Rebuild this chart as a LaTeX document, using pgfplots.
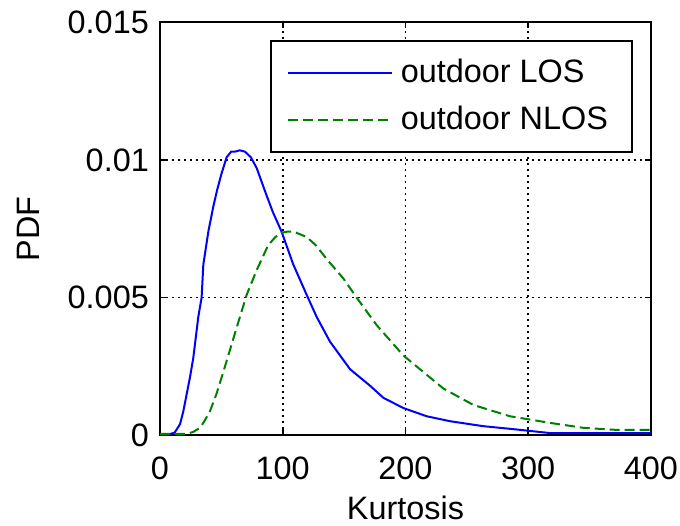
\documentclass[border=0pt]{standalone}
\usepackage{fontspec}
\setmainfont{Liberation Sans}
\usepackage{pgfplots}
\pgfplotsset{compat=1.18}
\definecolor{mblue}{rgb}{0,0,1}
\definecolor{mgreen}{rgb}{0,0.5,0}
\begin{document}
\fontsize{16.2}{19}\selectfont
\begin{tikzpicture}
\begin{axis}[
  name=ax,
  scale only axis,
  width=245.5pt, height=206.5pt,
  xmin=0, xmax=400, ymin=0, ymax=0.015,
  xtick={0,100,200,300,400},
  xticklabels={0,100,200,300,400},
  ytick={0,0.005,0.01,0.015},
  yticklabels={0,0.005,0.01,0.015},
  scaled y ticks=false,
  tick align=inside,
  major tick length=3pt,
  tick style={black, line width=0.8pt},
  axis line style={line width=1pt},
  every tick label/.append style={font=\fontsize{16.2}{19}\selectfont},
  xticklabel style={yshift=-5pt, inner xsep=0pt},
  label style={font=\fontsize{16.2}{19}\selectfont},
  xlabel={Kurtosis},
  ylabel={PDF},
  xlabel style={inner ysep=0pt, yshift=-2.5pt},
  ylabel style={yshift=3pt},
  grid=major,
  major grid style={black, line width=0.9pt, dash pattern=on 1.2pt off 1.8pt},
  legend cell align=left,
  legend style={at={(1,1)}, anchor=north east, xshift=-9pt, yshift=-9pt,
    draw=black, line width=1pt, fill=white,
    font=\fontsize{16.2}{19}\selectfont,
    inner xsep=8pt, inner ysep=7pt, row sep=5pt,
    nodes={inner xsep=4pt}},
  legend image code/.code={\draw[#1] (0pt,0pt) -- (52pt,0pt);},
]
\addplot[mblue, line width=1pt] coordinates {
(0,0.00003) (8,0.00004) (12,0.0001) (16.3,0.0004) (19,0.00087) (24.4,0.0021)
(27.1,0.0028) (31.2,0.0043) (33.9,0.0050) (35.3,0.0062) (39.4,0.0074)
(43.4,0.0083) (46.5,0.0089) (50.1,0.0095) (54.3,0.0101) (58,0.0103)
(61.1,0.0103) (65,0.01035) (69.2,0.0103) (74,0.0101)
(78.8,0.0097) (86.9,0.0087) (92,0.0081) (99,0.0074) (108.6,0.0062) (119.5,0.0051)
(127.6,0.0043) (138.5,0.0034) (154.8,0.0024) (171.1,0.0018) (182,0.00136)
(198.2,0.00099) (217.3,0.00069) (236.3,0.00051) (263.4,0.00033) (290.5,0.00021)
(317.7,0.00008) (400,0.00008)
};
\addlegendentry{outdoor LOS}
\addplot[mgreen, line width=1pt, dash pattern=on 5pt off 2.5pt] coordinates {
(0,0.00005) (21.7,0.00005) (27,0.00012) (32.6,0.00027) (36,0.0005) (40.7,0.00087)
(46,0.0015) (51.6,0.0023) (57,0.0031) (62.4,0.0039) (70.6,0.0051) (78.8,0.0060)
(88.1,0.0069) (94,0.0072) (99,0.00735) (104,0.0074) (108.6,0.0074) (119.5,0.0072)
(127,0.0069) (135.8,0.0064) (149.3,0.0057) (160.2,0.0050) (176.5,0.0040)
(198.2,0.0029) (214.5,0.0023) (230.8,0.0017) (255.3,0.0011) (285.1,0.00069)
(317.7,0.00045) (344.9,0.00027) (370,0.0002) (400,0.0002)
};
\addlegendentry{outdoor NLOS}
\end{axis}
\useasboundingbox ([shift={(-80pt,-45pt)}]ax.south west) rectangle ([shift={(14.5pt,10.5pt)}]ax.north east);
\end{tikzpicture}
\end{document}
